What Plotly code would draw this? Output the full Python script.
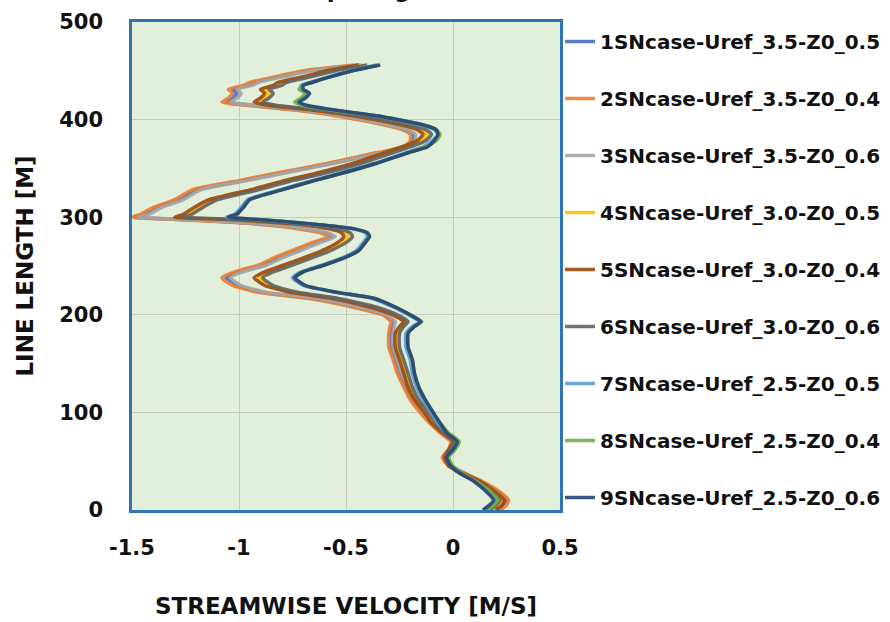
import plotly.graph_objects as go

# Line length [m] (shared sampling positions)
line_length = [0, 5, 10, 20, 29, 38, 45, 54, 62, 70, 79, 89, 99, 113, 126, 140, 154, 167, 181, 188,
               193, 200, 208, 217, 223, 230, 238, 244, 251, 259, 266, 274, 280, 284, 288, 292, 295, 298, 300, 303,
               310, 318, 328, 338, 345, 355, 366, 372, 378, 385, 390, 394, 403, 410, 415, 418, 422, 427, 431, 435,
               438, 444, 451, 456]

case_names = ["1SNcase-Uref_3.5-Z0_0.5", "2SNcase-Uref_3.5-Z0_0.4", "3SNcase-Uref_3.5-Z0_0.6",
              "4SNcase-Uref_3.0-Z0_0.5", "5SNcase-Uref_3.0-Z0_0.4", "6SNcase-Uref_3.0-Z0_0.6",
              "7SNcase-Uref_2.5-Z0_0.5", "8SNcase-Uref_2.5-Z0_0.4", "9SNcase-Uref_2.5-Z0_0.6"]

case1 = [0.20, 0.23, 0.25, 0.20, 0.13, 0.05, -0.01, -0.04, -0.01, 0.00, -0.05, -0.10, -0.14, -0.19, -0.22, -0.25, -0.27, -0.29, -0.29, -0.285,
         -0.28, -0.32, -0.45, -0.66, -0.89, -1.01, -1.06, -1.00, -0.89, -0.81, -0.73, -0.64, -0.565, -0.60, -0.70, -0.85, -1.04, -1.30, -1.49, -1.44,
         -1.39, -1.28, -1.20, -0.97, -0.81, -0.575, -0.34, -0.215, -0.19, -0.185, -0.23, -0.30, -0.50, -0.73, -0.96, -1.06, -1.03, -1.01, -1.03, -0.96,
         -0.93, -0.81, -0.65, -0.44]
case2 = [0.22, 0.25, 0.26, 0.21, 0.14, 0.05, -0.02, -0.05, -0.02, -0.01, -0.06, -0.11, -0.15, -0.20, -0.23, -0.26, -0.28, -0.30, -0.30, -0.295,
         -0.29, -0.33, -0.47, -0.68, -0.91, -1.03, -1.08, -1.02, -0.91, -0.83, -0.75, -0.66, -0.58, -0.62, -0.72, -0.87, -1.06, -1.32, -1.50, -1.46,
         -1.40, -1.30, -1.22, -0.99, -0.83, -0.59, -0.36, -0.23, -0.20, -0.20, -0.24, -0.31, -0.52, -0.75, -0.98, -1.08, -1.05, -1.03, -1.05, -0.98,
         -0.95, -0.83, -0.67, -0.46]
case3 = [0.19, 0.22, 0.24, 0.19, 0.12, 0.04, -0.01, -0.04, -0.01, 0.00, -0.05, -0.09, -0.13, -0.18, -0.21, -0.24, -0.26, -0.28, -0.28, -0.275,
         -0.27, -0.31, -0.44, -0.64, -0.87, -0.99, -1.04, -0.98, -0.87, -0.79, -0.71, -0.62, -0.55, -0.585, -0.68, -0.83, -1.02, -1.28, -1.47, -1.42,
         -1.36, -1.26, -1.18, -0.95, -0.79, -0.56, -0.33, -0.205, -0.18, -0.175, -0.22, -0.29, -0.49, -0.71, -0.94, -1.04, -1.01, -0.99, -1.01, -0.94,
         -0.91, -0.79, -0.63, -0.43]
case4 = [0.18, 0.21, 0.23, 0.18, 0.12, 0.04, -0.01, -0.03, -0.01, 0.01, -0.04, -0.09, -0.12, -0.17, -0.20, -0.22, -0.24, -0.26, -0.26, -0.24,
         -0.22, -0.27, -0.37, -0.55, -0.74, -0.86, -0.91, -0.86, -0.77, -0.67, -0.59, -0.52, -0.49, -0.50, -0.56, -0.68, -0.85, -1.05, -1.28, -1.24,
         -1.19, -1.12, -0.93, -0.76, -0.62, -0.45, -0.30, -0.22, -0.15, -0.12, -0.15, -0.215, -0.42, -0.65, -0.855, -0.91, -0.88, -0.86, -0.88, -0.82,
         -0.80, -0.68, -0.55, -0.42]
case5 = [0.20, 0.23, 0.24, 0.19, 0.13, 0.04, -0.02, -0.04, -0.02, 0.00, -0.05, -0.10, -0.13, -0.18, -0.21, -0.23, -0.25, -0.27, -0.27, -0.25,
         -0.23, -0.28, -0.39, -0.57, -0.76, -0.88, -0.93, -0.88, -0.79, -0.69, -0.61, -0.54, -0.51, -0.52, -0.58, -0.70, -0.87, -1.07, -1.30, -1.26,
         -1.21, -1.14, -0.95, -0.78, -0.64, -0.47, -0.32, -0.24, -0.17, -0.14, -0.17, -0.23, -0.44, -0.67, -0.875, -0.93, -0.90, -0.88, -0.90, -0.84,
         -0.82, -0.70, -0.57, -0.44]
case6 = [0.17, 0.20, 0.22, 0.17, 0.11, 0.03, -0.01, -0.03, -0.01, 0.01, -0.04, -0.08, -0.11, -0.16, -0.19, -0.21, -0.23, -0.25, -0.25, -0.23,
         -0.21, -0.26, -0.36, -0.54, -0.72, -0.84, -0.89, -0.84, -0.75, -0.65, -0.57, -0.50, -0.47, -0.48, -0.54, -0.66, -0.83, -1.03, -1.26, -1.22,
         -1.17, -1.10, -0.91, -0.74, -0.60, -0.43, -0.28, -0.20, -0.13, -0.10, -0.13, -0.20, -0.40, -0.63, -0.835, -0.89, -0.86, -0.84, -0.86, -0.80,
         -0.78, -0.66, -0.53, -0.40]
case7 = [0.15, 0.18, 0.20, 0.16, 0.11, 0.03, -0.01, -0.03, 0.00, 0.02, -0.03, -0.07, -0.10, -0.14, -0.17, -0.19, -0.20, -0.22, -0.22, -0.19,
         -0.155, -0.21, -0.28, -0.38, -0.55, -0.70, -0.75, -0.71, -0.61, -0.51, -0.45, -0.42, -0.40, -0.41, -0.47, -0.62, -0.77, -0.95, -1.06, -1.02,
         -0.99, -0.96, -0.81, -0.65, -0.53, -0.37, -0.22, -0.14, -0.10, -0.07, -0.09, -0.14, -0.34, -0.575, -0.70, -0.73, -0.70, -0.68, -0.71, -0.71,
         -0.67, -0.58, -0.46, -0.355]
case8 = [0.16, 0.19, 0.21, 0.17, 0.11, 0.04, 0.00, -0.02, 0.01, 0.03, -0.02, -0.06, -0.09, -0.13, -0.16, -0.18, -0.19, -0.21, -0.21, -0.18,
         -0.145, -0.20, -0.27, -0.37, -0.54, -0.69, -0.74, -0.70, -0.60, -0.50, -0.44, -0.41, -0.39, -0.40, -0.46, -0.61, -0.76, -0.94, -1.05, -1.01,
         -0.98, -0.95, -0.80, -0.64, -0.52, -0.36, -0.21, -0.13, -0.08, -0.06, -0.08, -0.13, -0.33, -0.58, -0.71, -0.74, -0.71, -0.69, -0.72, -0.70,
         -0.66, -0.57, -0.45, -0.35]
case9 = [0.14, 0.17, 0.19, 0.15, 0.10, 0.03, -0.01, -0.03, 0.00, 0.02, -0.03, -0.06, -0.09, -0.13, -0.16, -0.18, -0.19, -0.21, -0.21, -0.18,
         -0.15, -0.20, -0.27, -0.37, -0.54, -0.69, -0.74, -0.70, -0.60, -0.50, -0.44, -0.41, -0.39, -0.40, -0.46, -0.61, -0.76, -0.94, -1.05, -1.01,
         -0.98, -0.95, -0.80, -0.64, -0.52, -0.36, -0.21, -0.12, -0.09, -0.07, -0.08, -0.13, -0.33, -0.56, -0.69, -0.72, -0.69, -0.67, -0.70, -0.70,
         -0.66, -0.57, -0.45, -0.34]

case_values = [case1, case2, case3, case4, case5, case6, case7, case8, case9]
case_colors = ["#4472C4", "#ED7D31", "#A5A5A5", "#FFC000", "#9E480E", "#636363", "#5B9BD5", "#70AD47", "#264478"]

x_ticks = [-1.5, -1, -0.5, 0, 0.5]
y_ticks = [0, 100, 200, 300, 400, 500]

FONT = "DejaVu Sans"
INK = "#111111"

fig = go.Figure()
for i, (name, vals, col) in enumerate(zip(case_names, case_values, case_colors)):
    fig.add_trace(go.Scatter(
        x=vals, y=line_length, mode="lines", name=name,
        line=dict(color=col, width=3.5, shape="spline", smoothing=0.5), opacity=0.9,
        legendgroup=f"g{i}",
    ))

fig.add_annotation(
    text="Comparing all cases", xref="paper", yref="paper",
    x=0.626, y=1.036, xanchor="center", yanchor="bottom", showarrow=False,
    font=dict(family=FONT, size=23, color=INK, weight="bold"),
)

fig.update_layout(
    width=890, height=622,
    margin=dict(l=132, r=330, t=22, b=112, autoexpand=False),
    paper_bgcolor="white",
    plot_bgcolor="#E2EFDA",
    font=dict(family=FONT, color=INK),
    showlegend=True,
    legend=dict(
        x=1.0, y=1.0, xanchor="left", yanchor="top",
        font=dict(family=FONT, size=20, color=INK, weight="bold"),
        tracegroupgap=28, itemwidth=30, maxheight=600,
        bgcolor="rgba(0,0,0,0)",
    ),
)
fig.update_xaxes(
    range=[-1.5, 0.5], tickvals=x_ticks, ticktext=[str(v) for v in x_ticks],
    showgrid=True, gridcolor="#C5CDBF", gridwidth=1, zeroline=False,
    showline=True, mirror=True, linecolor="#2E75B6", linewidth=2.5,
    ticks="", ticklabelstandoff=17,
    tickfont=dict(family=FONT, size=21, color=INK, weight="bold"),
    title=dict(text="STREAMWISE VELOCITY [M/S]", standoff=39,
               font=dict(family=FONT, size=23, color=INK, weight="bold")),
)
fig.update_yaxes(
    range=[0, 500], tickvals=y_ticks,
    showgrid=True, gridcolor="#C5CDBF", gridwidth=1, zeroline=False,
    showline=True, mirror=True, linecolor="#2E75B6", linewidth=2.5,
    ticks="", ticklabelstandoff=22,
    tickfont=dict(family=FONT, size=21, color=INK, weight="bold"),
    title=dict(text="LINE LENGTH [M]", standoff=20,
               font=dict(family=FONT, size=23, color=INK, weight="bold")),
)

fig.write_html("out.html")
